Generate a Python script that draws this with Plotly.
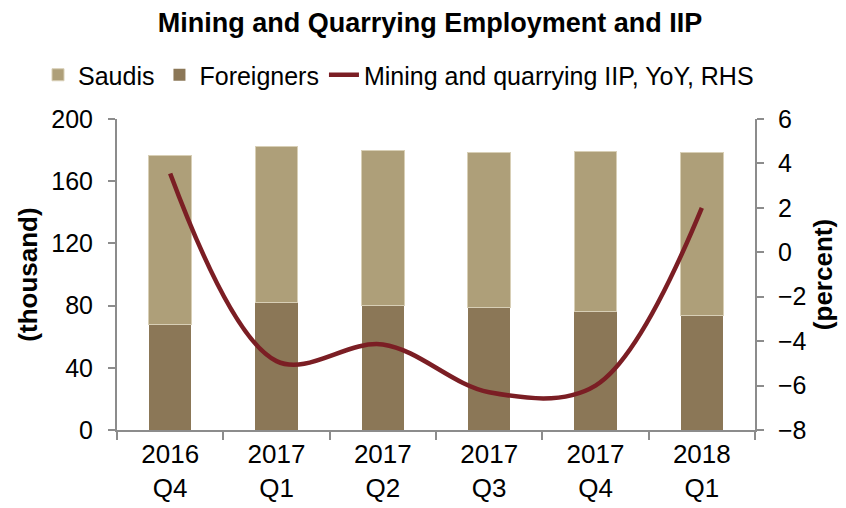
import plotly.graph_objects as go

# ---------------- Data ----------------
quarters = ["2016<br>Q4", "2017<br>Q1", "2017<br>Q2", "2017<br>Q3", "2017<br>Q4", "2018<br>Q1"]
foreigners = [67.7, 81.9, 80.2, 78.7, 76.1, 73.7]
saudis = [109.1, 100.3, 99.7, 99.9, 103.1, 104.9]
iip_yoy = [3.55, -4.9, -4.15, -6.3, -6.0, 2.0]

SAUDI_COLOR = "#AE9F79"
FOREIGN_COLOR = "#8B7757"
LINE_COLOR = "#7B1E24"
AXIS_COLOR = "#8C8C8C"
FONT = "Liberation Sans, Arial, sans-serif"

fig = go.Figure()

fig.add_trace(go.Bar(
    x=quarters, y=foreigners, name="Foreigners", legendrank=2,
    marker=dict(color=FOREIGN_COLOR, line=dict(width=0)),
))
fig.add_trace(go.Bar(
    x=quarters, y=saudis, name="Saudis", legendrank=1,
    marker=dict(color=SAUDI_COLOR, line=dict(color="#D8CFB6", width=1)),
))
fig.add_trace(go.Scatter(
    x=quarters, y=iip_yoy, name="Mining and quarrying IIP, YoY, RHS",
    mode="lines", yaxis="y2", legendrank=3,
    line=dict(color=LINE_COLOR, width=4.5, shape="spline", smoothing=1.0),
))

# page body adds an 8px offset; plot area lands at x 117..755, y 119..430 on screen
fig.update_layout(
    width=846, height=508,
    barmode="stack", bargap=0.6,
    plot_bgcolor="white", paper_bgcolor="white",
    margin=dict(l=109, r=99, t=111, b=86, autoexpand=False),
    font=dict(family=FONT, size=25, color="black"),
    title=dict(
        text="<b>Mining and Quarrying Employment and IIP</b>",
        x=(430 - 8) / 846, xanchor="center", y=1 - 15 / 508, yanchor="middle",
        font=dict(size=27, family=FONT),
    ),
    legend=dict(
        orientation="h", traceorder="normal",
        x=(30 - 109) / 638, xanchor="left",
        y=(422 - 67) / 311, yanchor="middle",
        font=dict(size=25), bgcolor="rgba(0,0,0,0)",
    ),
    xaxis=dict(
        showline=True, linecolor=AXIS_COLOR, linewidth=2,
        ticks="outside", tickson="boundaries", ticklen=8, tickcolor=AXIS_COLOR,
        tickwidth=2, showgrid=False, tickfont=dict(size=26),
    ),
    yaxis=dict(
        range=[0, 200], dtick=40, showgrid=False,
        showline=True, linecolor=AXIS_COLOR, linewidth=2,
        ticks="outside", ticklen=7, tickcolor=AXIS_COLOR, tickwidth=2,
        ticklabelstandoff=10,
        title=dict(text="<b>(thousand)</b>", standoff=6, font=dict(size=26)),
    ),
    yaxis2=dict(
        range=[-8, 6], dtick=2, overlaying="y", side="right", showgrid=False,
        showline=True, linecolor=AXIS_COLOR, linewidth=2,
        ticks="outside", ticklen=7, tickcolor=AXIS_COLOR, tickwidth=2,
        ticklabelstandoff=9, zeroline=False,
        title=dict(text="<b>(percent)</b>", standoff=8, font=dict(size=26)),
    ),
)

fig.write_html("out.html")
